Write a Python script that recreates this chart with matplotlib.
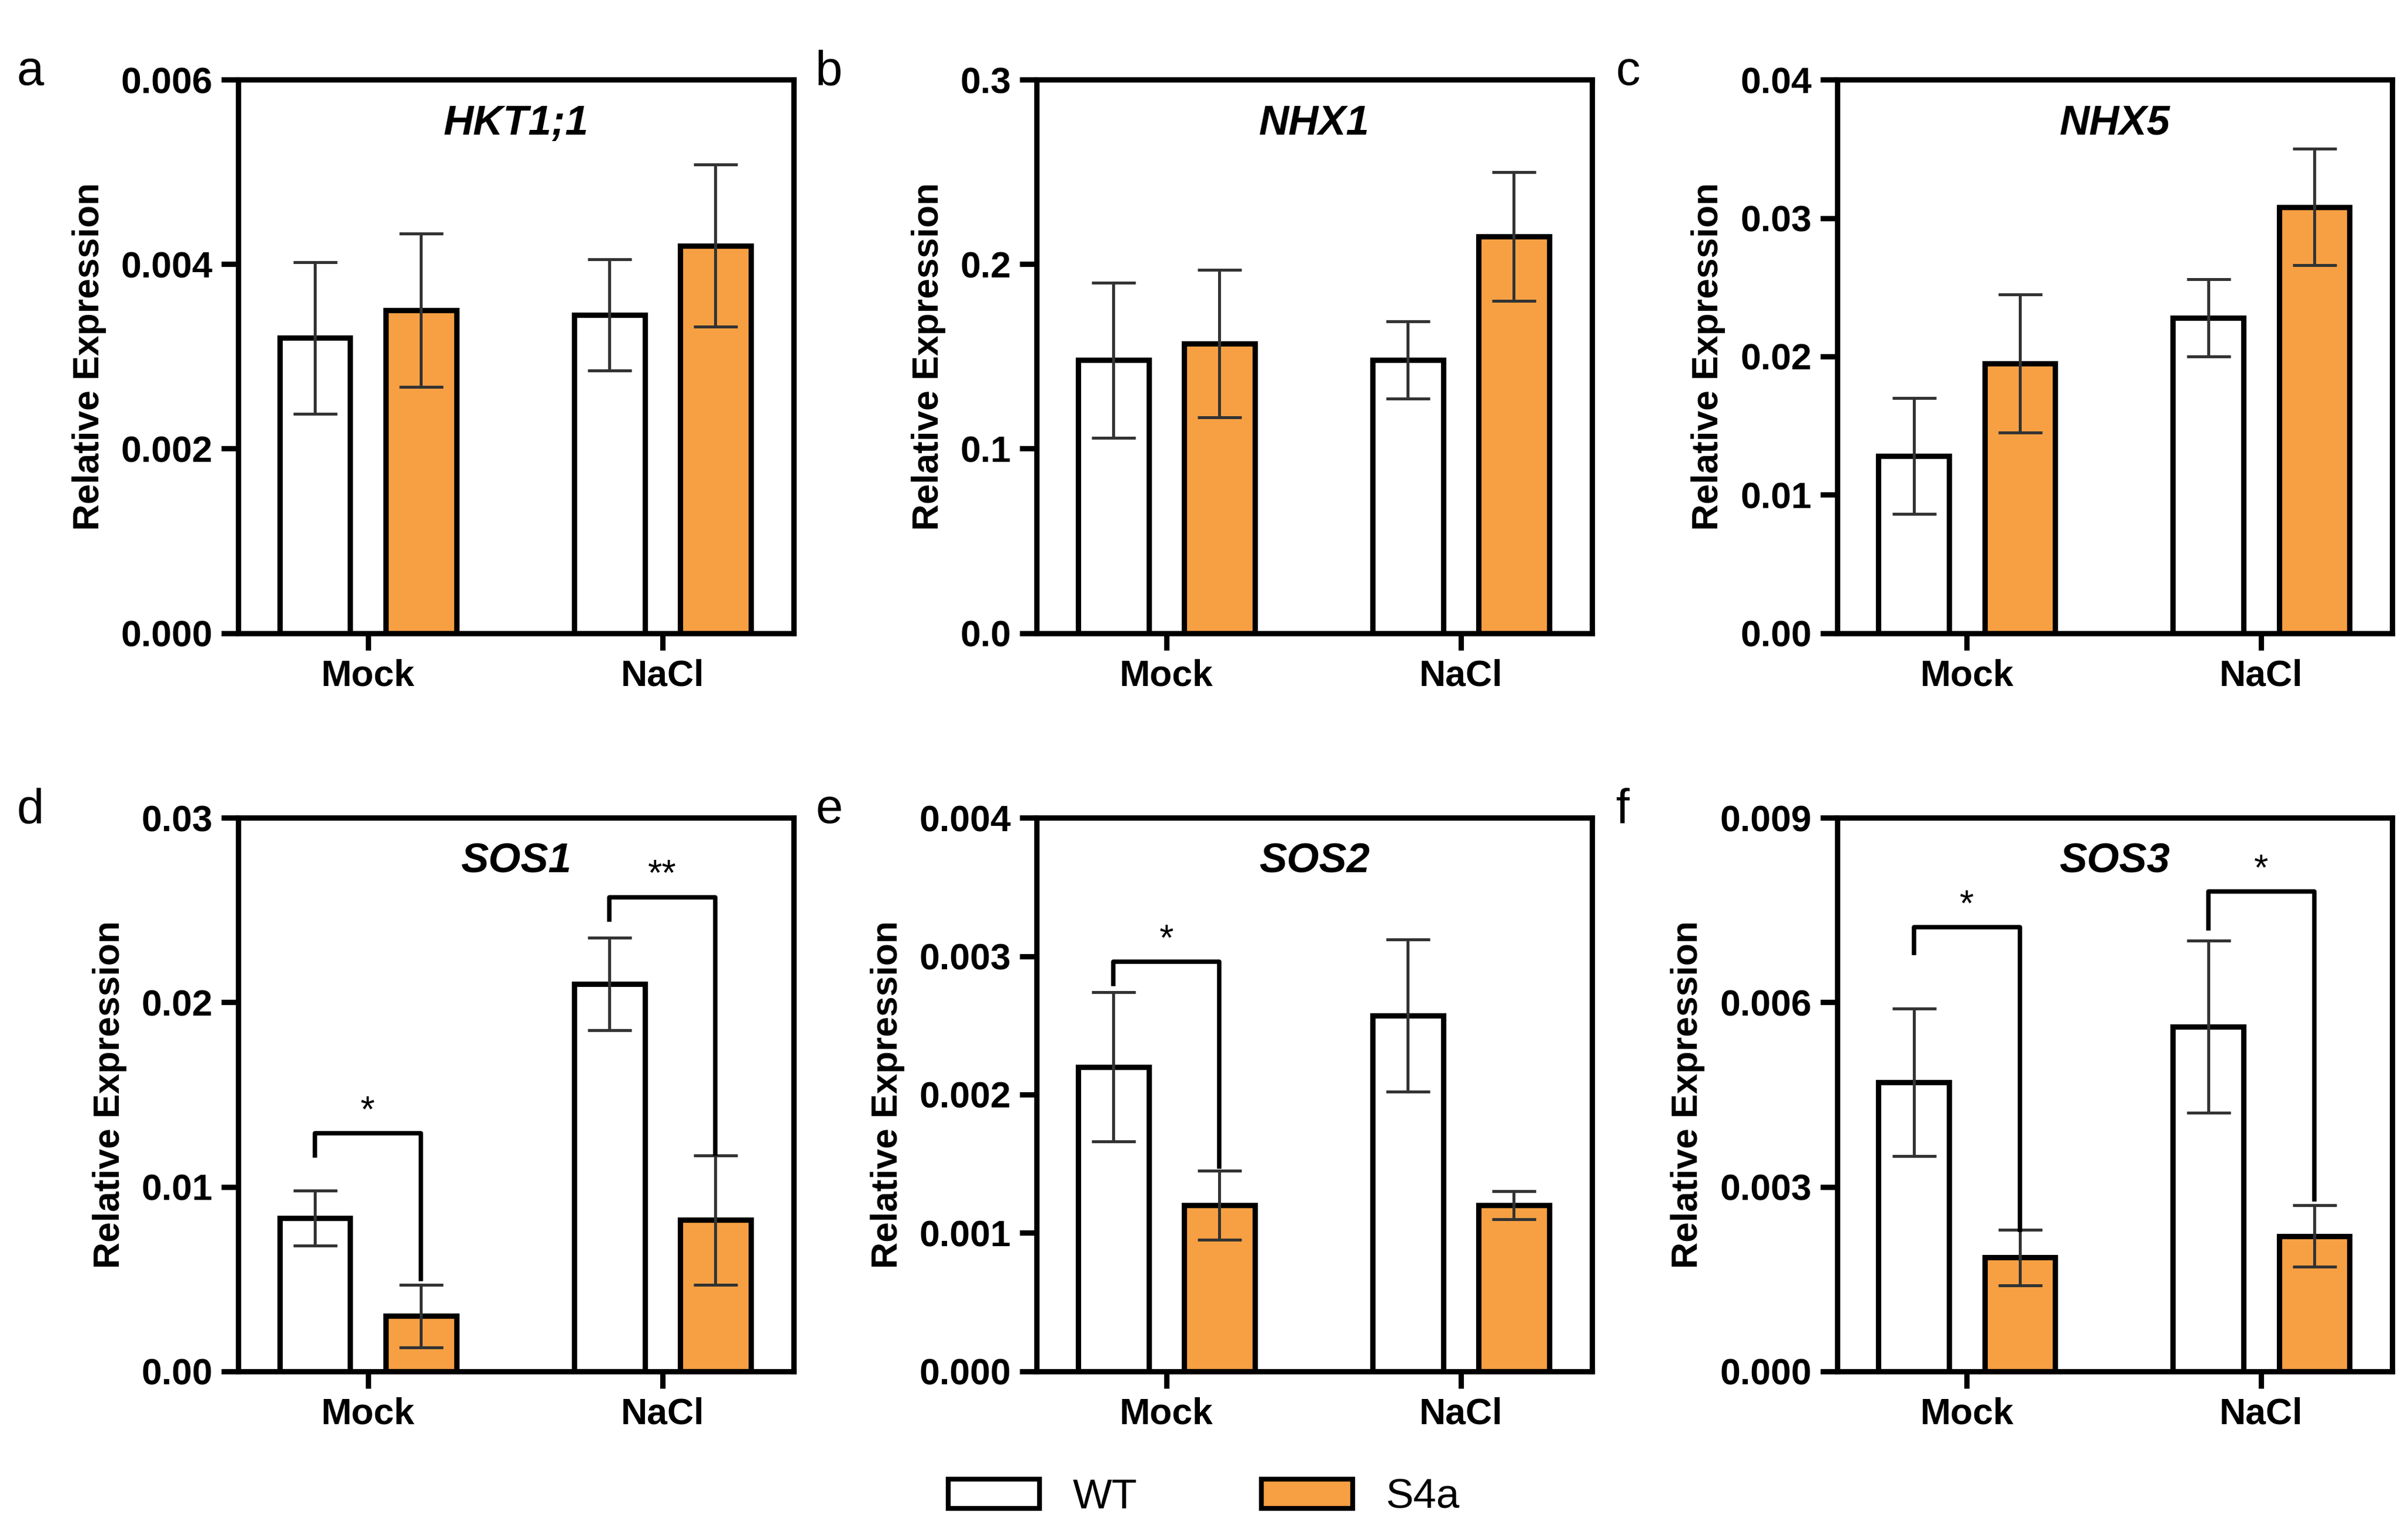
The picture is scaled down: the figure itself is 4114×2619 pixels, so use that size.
import numpy as np
import matplotlib.pyplot as plt
from matplotlib.patches import Patch

plt.rcParams['font.family'] = ['Liberation Sans', 'DejaVu Sans']

genes = ['HKT1;1', 'NHX1', 'NHX5', 'SOS1', 'SOS2', 'SOS3']
letters = ['a', 'b', 'c', 'd', 'e', 'f']
groups = ['Mock', 'NaCl']
# order: Mock WT, Mock S4a, NaCl WT, NaCl S4a
means = [[0.0032, 0.0035, 0.00345, 0.0042],
         [0.148, 0.157, 0.148, 0.215],
         [0.0128, 0.0195, 0.0228, 0.0308],
         [0.0083, 0.0030, 0.0210, 0.0082],
         [0.0022, 0.0012, 0.00257, 0.0012],
         [0.0047, 0.00185, 0.0056, 0.0022]]
errs = [[0.00082, 0.00083, 0.0006, 0.00088],
        [0.042, 0.040, 0.021, 0.035],
        [0.0042, 0.0050, 0.0028, 0.0042],
        [0.0015, 0.0017, 0.0025, 0.0035],
        [0.00054, 0.00025, 0.00055, 0.0001],
        [0.0012, 0.00045, 0.0014, 0.0005]]
ymax = [0.006, 0.3, 0.04, 0.03, 0.004, 0.009]
ystep = [0.002, 0.1, 0.01, 0.01, 0.001, 0.003]
fmts = ['%.3f', '%.1f', '%.2f', '%.2f', '%.3f', '%.3f']
# brackets: (panel, group, top, left_end, right_end, label)
brackets = [(3, 0, 0.0129, 0.0117, 0.0050, '*'),
            (3, 1, 0.0257, 0.0245, 0.0118, '**'),
            (4, 0, 0.00296, 0.0028, 0.00148, '*'),
            (5, 0, 0.00722, 0.0068, 0.0023, '*'),
            (5, 1, 0.0078, 0.0072, 0.0028, '*')]

orange = '#F7A043'
lefts = [0.099, 0.4306, 0.763]
bottoms = [0.587, 0.1055]
w, h = 0.2305, 0.361
bw, off = 0.24, 0.18

fig = plt.figure(figsize=(4114 / 300, 2619 / 300), dpi=300)
axes = []
for i in range(6):
    ax = fig.add_axes([lefts[i % 3], bottoms[i // 3], w, h])
    axes.append(ax)
    for g in range(2):
        for k, col in enumerate(['white', orange]):
            x = g + (k * 2 - 1) * off
            j = g * 2 + k
            ax.bar(x, means[i][j], bw, color=col, edgecolor='black', linewidth=2.2)
            ax.errorbar(x, means[i][j], yerr=errs[i][j], color='#333333',
                        capsize=9, elinewidth=1.2, capthick=1.2)
    ax.set_xlim(-0.44, 1.445)
    ax.set_ylim(0, ymax[i])
    ticks = np.arange(0, ymax[i] + ystep[i] / 2, ystep[i])
    ax.set_yticks(ticks)
    ax.set_yticklabels([fmts[i] % v for v in ticks])
    ax.set_xticks([0, 1])
    ax.set_xticklabels(groups)
    for s in ax.spines.values():
        s.set_linewidth(2.2)
    ax.tick_params(width=2.2, length=7, labelsize=15)
    for t in ax.get_xticklabels() + ax.get_yticklabels():
        t.set_fontweight('bold')
    ax.set_ylabel('Relative Expression', fontsize=15, fontweight='bold', labelpad=6)
    ax.text(0.5, 0.92, genes[i], transform=ax.transAxes, ha='center', va='center',
            fontsize=17, fontweight='bold', style='italic')
    fig.text(lefts[i % 3] - 0.092, bottoms[i // 3] + h + 0.005, letters[i],
             fontsize=20, va='center')

for p, g, top, le, re, lab in brackets:
    ax = axes[p]
    xl, xr = g - off, g + off
    ax.plot([xl, xl, xr, xr], [le, top, top, re], color='black', linewidth=1.8)
    ax.text(g, top + ymax[p] * 0.008, lab, ha='center', va='bottom', fontsize=15)

handles = [Patch(facecolor='white', edgecolor='black', linewidth=2, label='WT'),
           Patch(facecolor=orange, edgecolor='black', linewidth=2, label='S4a')]
fig.legend(handles=handles, loc='center', bbox_to_anchor=(0.5, 0.023), ncol=2,
           frameon=False, fontsize=17, columnspacing=3, handlelength=2.2)

fig.savefig('out.png', dpi=300)
